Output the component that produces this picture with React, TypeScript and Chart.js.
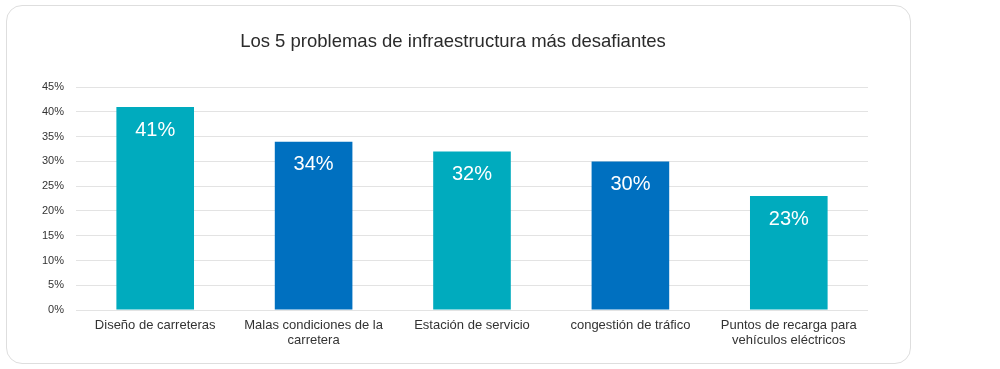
import React, { useEffect, useRef } from "react";
import { Chart, registerables } from "chart.js";

Chart.register(...registerables);

const categories: (string | string[])[] = [
  "Diseño de carreteras",
  ["Malas condiciones de la", "carretera"],
  "Estación de servicio",
  "congestión de tráfico",
  ["Puntos de recarga para", "vehículos eléctricos"],
];
const values = [41, 34, 32, 30, 23];
const barColors = ["#00ABBE", "#0070C0", "#00ABBE", "#0070C0", "#00ABBE"];
const titleText = "Los 5 problemas de infraestructura más desafiantes";

const FONT = "'Liberation Sans', Arial, sans-serif";

const valueLabels = {
  id: "valueLabels",
  afterDatasetsDraw(chart: any) {
    const ctx = chart.ctx;
    const meta = chart.getDatasetMeta(0);
    ctx.save();
    ctx.fillStyle = "#ffffff";
    ctx.font = `20px ${FONT}`;
    ctx.textAlign = "center";
    ctx.textBaseline = "middle";
    meta.data.forEach((bar: any, i: number) => {
      ctx.fillText(values[i] + "%", bar.x, bar.y + 23);
    });
    ctx.restore();
  },
};

export default function App() {
  const ref = useRef<HTMLCanvasElement | null>(null);
  useEffect(() => {
    document.body.style.margin = "0";
    if (!ref.current) return;
    const chart = new Chart(ref.current, {
      type: "bar",
      data: {
        labels: categories,
        datasets: [
          {
            data: values,
            backgroundColor: barColors,
            categoryPercentage: 1,
            barPercentage: 0.49,
          },
        ],
      },
      options: {
        animation: false,
        responsive: false,
        layout: { padding: { left: 38, right: 132, top: 0, bottom: 0 } },
        plugins: {
          legend: { display: false },
          tooltip: { enabled: false },
          title: {
            display: true,
            text: titleText,
            color: "#2b2b2b",
            font: { family: FONT, size: 18.5, weight: "normal", lineHeight: 1.2 },
            padding: { top: 31, bottom: 34 },
          },
        },
        scales: {
          x: {
            grid: { display: false, drawTicks: false },
            border: { display: false },
            ticks: {
              color: "#333333",
              font: { family: FONT, size: 13, lineHeight: 1.15 },
              padding: 8,
              maxRotation: 0,
              autoSkip: false,
            },
            afterFit(scale: any) {
              scale.height = 59;
            },
          },
          y: {
            min: 0,
            max: 45,
            ticks: {
              stepSize: 5,
              color: "#333333",
              font: { family: FONT, size: 11 },
              padding: 12,
              callback: (v: any) => v + "%",
            },
            grid: { color: "#e3e3e3", drawTicks: false },
            border: { display: false },
            afterFit(scale: any) {
              scale.width = 38;
            },
          },
        },
      },
      plugins: [valueLabels],
    });
    return () => chart.destroy();
  }, []);

  return (
    <div style={{ position: "relative", width: 1000, height: 369, background: "#fff" }}>
      <div
        style={{
          position: "absolute",
          left: 6,
          top: 5,
          width: 903,
          height: 357,
          border: "1px solid #dedede",
          borderRadius: 16,
          boxSizing: "content-box",
        }}
      />
      <canvas
        ref={ref}
        width={1000}
        height={369}
        style={{ position: "absolute", left: 0, top: 0, width: 1000, height: 369 }}
      />
    </div>
  );
}
